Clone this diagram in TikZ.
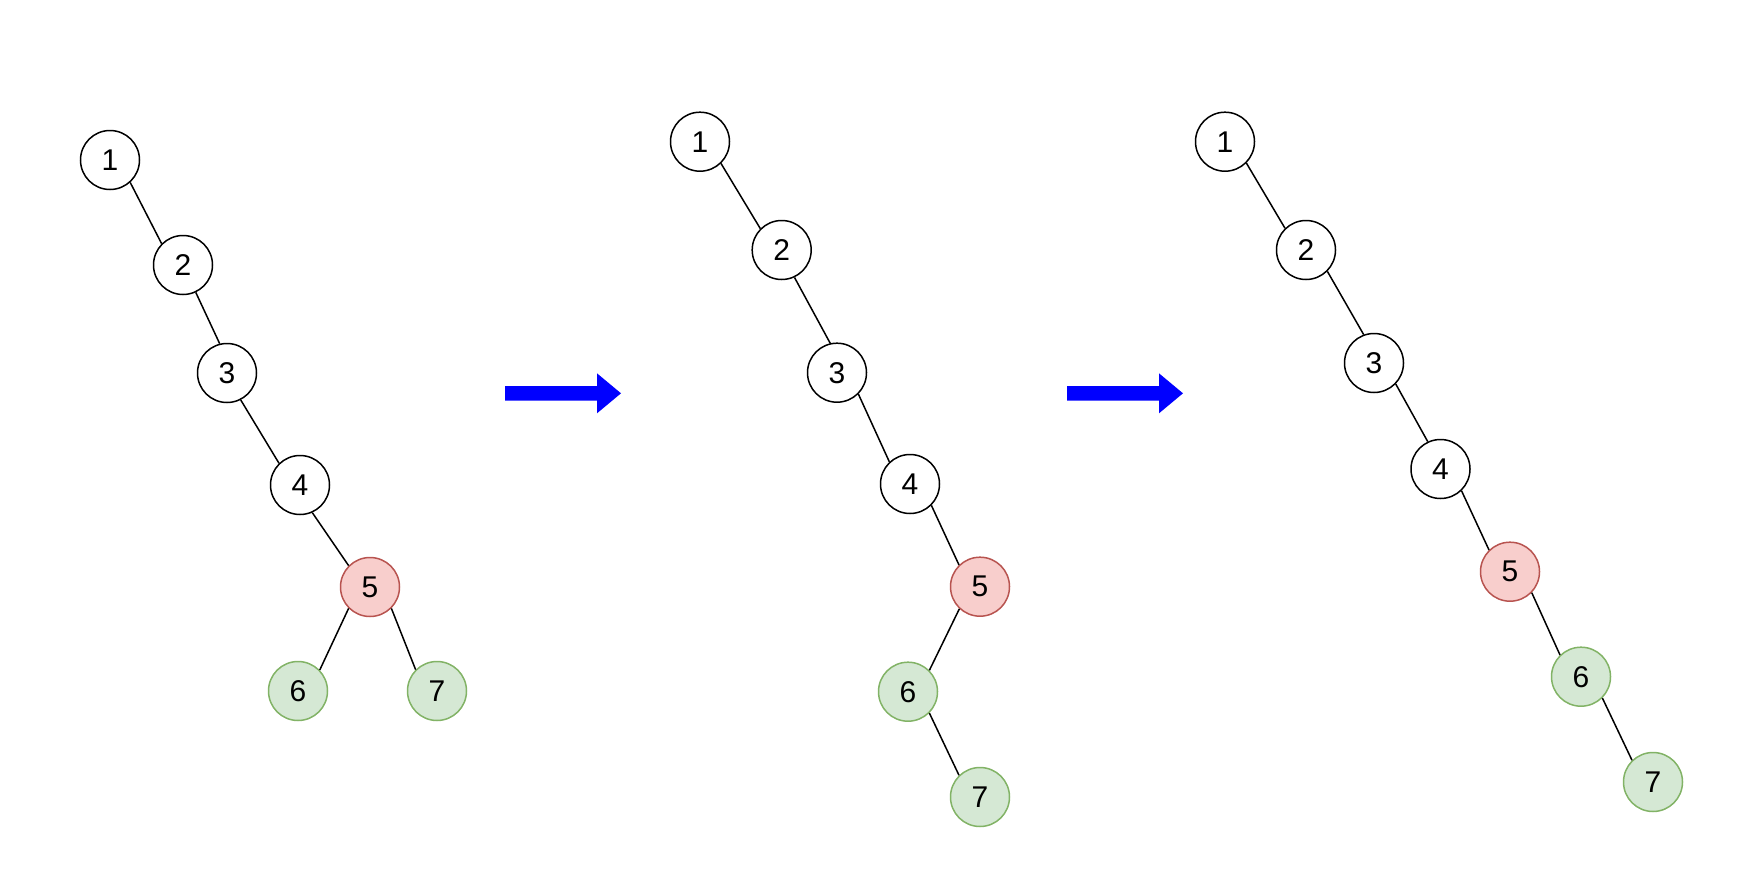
\documentclass[tikz,border=0pt]{standalone}
\usepackage{fontspec}
\setmainfont{Liberation Sans}
\definecolor{redfill}{HTML}{F8CECC}
\definecolor{redline}{HTML}{B85450}
\definecolor{greenfill}{HTML}{D5E8D4}
\definecolor{greenline}{HTML}{82B366}
\definecolor{arrowblue}{HTML}{0000FF}
\begin{document}
\begin{tikzpicture}[x=1pt,y=-1pt,
  tnode/.style={circle,draw=black,fill=white,line width=1.5pt,minimum size=59pt,inner sep=0pt,font=\fontsize{30}{30}\selectfont},
  rnode/.style={tnode,draw=redline,fill=redfill},
  gnode/.style={tnode,draw=greenline,fill=greenfill},
  edge/.style={draw=black,line width=1.5pt},
  bigarrow/.style={fill=arrowblue,draw=none}]
\useasboundingbox (0,0) rectangle (1738,886);
% tree 1
\node[tnode] (a1) at (110,160) {1};
\node[tnode] (a2) at (183,265) {2};
\node[tnode] (a3) at (227,373) {3};
\node[tnode] (a4) at (300,485) {4};
\node[rnode] (a5) at (370,587) {5};
\node[gnode] (a6) at (298,691) {6};
\node[gnode] (a7) at (437,691) {7};
\draw[edge] (a1.-48) -- (a2.135);
\draw[edge] (a2.-65) -- (a3.104);
\draw[edge] (a3.-63) -- (a4.134);
\draw[edge] (a4.-66) -- (a5.135);
\draw[edge] (a5.-135) -- (a6.44);
\draw[edge] (a5.-45) -- (a7.135);
% arrow 1
\coordinate (p1) at (505,393.3);
\fill[bigarrow] (p1) ++(0,-7.3) -- ++(92,0) -- ++(0,-12.7) -- ++(24,20) -- ++(-24,20) -- ++(0,-12.7) -- ++(-92,0) -- cycle;
% tree 2
\node[tnode] (b1) at (700,141.7) {1};
\node[tnode] (b2) at (781.7,250) {2};
\node[tnode] (b3) at (837,372.7) {3};
\node[tnode] (b4) at (910,484) {4};
\node[rnode] (b5) at (980,586.7) {5};
\node[gnode] (b6) at (908,691.7) {6};
\node[gnode] (b7) at (980,797) {7};
\draw[edge] (b1.-46) -- (b2.135);
\draw[edge] (b2.-65) -- (b3.103);
\draw[edge] (b3.-45) -- (b4.133);
\draw[edge] (b4.-45) -- (b5.134);
\draw[edge] (b5.-133) -- (b6.45);
\draw[edge] (b6.-45) -- (b7.134);
% arrow 2
\coordinate (p2) at (1067,393.3);
\fill[bigarrow] (p2) ++(0,-7.3) -- ++(92,0) -- ++(0,-12.7) -- ++(24,20) -- ++(-24,20) -- ++(0,-12.7) -- ++(-92,0) -- cycle;
% tree 3
\node[tnode] (c1) at (1225,141.7) {1};
\node[tnode] (c2) at (1306,250) {2};
\node[tnode] (c3) at (1374,363) {3};
\node[tnode] (c4) at (1440.5,469) {4};
\node[rnode] (c5) at (1510,571.7) {5};
\node[gnode] (c6) at (1581,676.7) {6};
\node[gnode] (c7) at (1653,782) {7};
\draw[edge] (c1.-45) -- (c2.134);
\draw[edge] (c2.-45) -- (c3.110);
\draw[edge] (c3.-44) -- (c4.115);
\draw[edge] (c4.-46) -- (c5.134);
\draw[edge] (c5.-44) -- (c6.134);
\draw[edge] (c6.-45) -- (c7.134);
\end{tikzpicture}
\end{document}
